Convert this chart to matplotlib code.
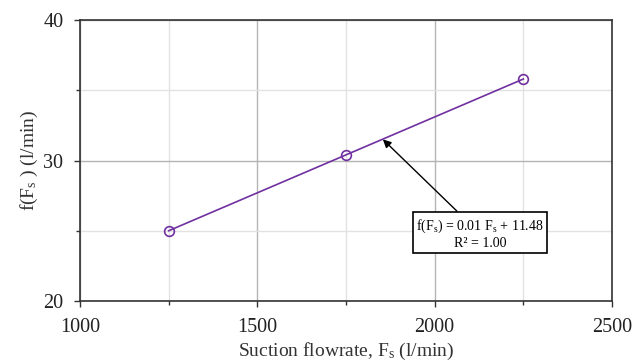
import matplotlib
matplotlib.use("Agg")
import matplotlib.pyplot as plt
from matplotlib.ticker import MultipleLocator

plt.rcParams['font.family'] = ['Liberation Serif', 'DejaVu Serif']
plt.rcParams['mathtext.fontset'] = 'custom'
plt.rcParams['mathtext.rm'] = 'Liberation Serif'
plt.rcParams['mathtext.it'] = 'Liberation Serif:italic'

# Data
suction_flow = [1250, 1750, 2250]
f_values = [25.0, 30.4, 35.8]
slope = 0.0108
intercept = 11.48
eq_text = "f(F$_\\mathregular{s}$) = 0.01 F$_\\mathregular{s}$ + 11.48\nR² = 1.00"

fig = plt.figure(figsize=(6.32, 3.62), dpi=100)
ax = fig.add_axes([80/632, 1-301/362, 532/632, 281/362])

purple = '#7030A0'
ax.plot(suction_flow, f_values, color=purple, lw=1.2, marker='o', ms=7,
        mfc='none', mec=purple, mew=1.2, zorder=3)

ax.set_xlim(1000, 2500)
ax.set_ylim(20, 40)
ax.xaxis.set_major_locator(MultipleLocator(500))
ax.xaxis.set_minor_locator(MultipleLocator(250))
ax.yaxis.set_major_locator(MultipleLocator(10))
ax.yaxis.set_minor_locator(MultipleLocator(5))

ax.grid(which='major', color='#b4b4b4', lw=1.0)
ax.grid(which='minor', color='#e2e2e2', lw=1.0)
ax.set_axisbelow(True)

for s in ax.spines.values():
    s.set_color('#333333')
    s.set_linewidth(1.2)

ax.tick_params(which='both', direction='out', colors='#333333', labelcolor='#222222',
               labelsize=14.5, width=1.0)
ax.tick_params(which='major', length=4)
ax.tick_params(which='minor', length=3)
ax.tick_params(axis='y', which='major', pad=8)
ax.tick_params(axis='x', which='major', pad=8)

ax.set_xlabel("Suction flowrate, F$_\\mathregular{s}$ (l/min)", fontsize=14, color='#333333', labelpad=3)
ax.set_ylabel("f(F$_\\mathregular{s}$ ) (l/min)", fontsize=14, color='#333333', labelpad=2)

xt = 1854
ax.annotate(eq_text, xy=(xt, slope*xt + intercept), xytext=(2128, 24.8),
            ha='center', va='center', fontsize=10, multialignment='center',
            bbox=dict(boxstyle='square,pad=0.25', fc='white', ec='black', lw=1.2),
            arrowprops=dict(arrowstyle='-|>', color='black', lw=1.0,
                            mutation_scale=12, shrinkA=0, shrinkB=0))

fig.savefig('out.png', dpi=100)
